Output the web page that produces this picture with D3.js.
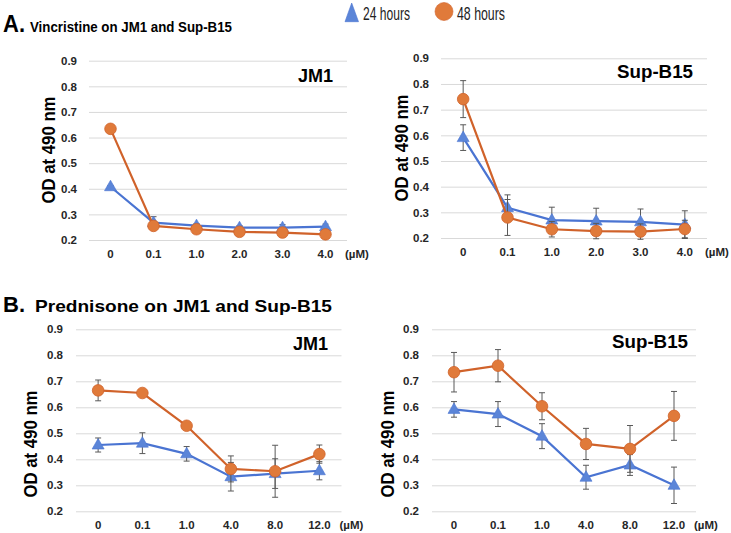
<!DOCTYPE html>
<html>
<head>
<meta charset="utf-8">
<script src="https://cdn.jsdelivr.net/npm/d3@7/dist/d3.min.js"></script>
<style>
  html, body { margin: 0; padding: 0; background: #fff; }
  svg { display: block; }
  text { font-family: "Liberation Sans", Arial, sans-serif; }
</style>
</head>
<body>
<svg id="chart" width="731" height="533"></svg>
<script>
// ---------- DATA ----------
const concVincristine = ["0", "0.1", "1.0", "2.0", "3.0", "4.0"];
const concPrednisone  = ["0", "0.1", "1.0", "4.0", "8.0", "12.0"];
const yTicks = [0.2, 0.3, 0.4, 0.5, 0.6, 0.7, 0.8, 0.9];
const seriesNames = ["24 hours", "48 hours"];

// Vincristine on JM1
const vinJM1_24h    = [0.408, 0.268, 0.256, 0.248, 0.248, 0.252];
const vinJM1_24hErr = [0.005, 0.023, 0.008, 0.008, 0.012, 0.010];
const vinJM1_48h    = [0.634, 0.255, 0.242, 0.232, 0.229, 0.222];
const vinJM1_48hErr = [0.004, 0.005, 0.005, 0.005, 0.005, 0.005];
// Vincristine on Sup-B15
const vinSup_24h    = [0.591, 0.318, 0.270, 0.266, 0.263, 0.252];
const vinSup_24hErr = [0.050, 0.050, 0.050, 0.050, 0.050, 0.054];
const vinSup_48h    = [0.741, 0.280, 0.234, 0.227, 0.225, 0.235];
const vinSup_48hErr = [0.072, 0.070, 0.030, 0.030, 0.030, 0.034];
// Prednisone on JM1
const preJM1_24h    = [0.455, 0.462, 0.421, 0.333, 0.345, 0.356];
const preJM1_24hErr = [0.027, 0.040, 0.028, 0.055, 0.057, 0.035];
const preJM1_48h    = [0.665, 0.655, 0.529, 0.363, 0.354, 0.420];
const preJM1_48hErr = [0.040, 0.005, 0.005, 0.050, 0.100, 0.035];
// Prednisone on Sup-B15
const preSup_24h    = [0.592, 0.574, 0.489, 0.331, 0.378, 0.300];
const preSup_24hErr = [0.030, 0.048, 0.048, 0.046, 0.040, 0.070];
const preSup_48h    = [0.735, 0.760, 0.604, 0.459, 0.440, 0.567];
const preSup_48hErr = [0.076, 0.062, 0.052, 0.060, 0.090, 0.094];

// ---------- STYLE / LAYOUT ----------
const C24 = { line: "#4a74d2", fill: "#5b85d8" };
const C48 = { line: "#d0622a", fill: "#e07a3a" };
const svg = d3.select("#chart");

const panels = [
  { cats: concVincristine, s24: vinJM1_24h, e24: vinJM1_24hErr, s48: vinJM1_48h, e48: vinJM1_48hErr,
    label: "JM1", x0: 89, x1: 347, yTop: 60.7, yBot: 240, tickPad: 12,
    labelX: 298, labelY: 81.5, labelLen: 35, titleX: 48.5, titleY: 150 },
  { cats: concVincristine, s24: vinSup_24h, e24: vinSup_24hErr, s48: vinSup_48h, e48: vinSup_48hErr,
    label: "Sup-B15", x0: 441, x1: 707, yTop: 58.3, yBot: 238, tickPad: 12,
    labelX: 617, labelY: 77.5, labelLen: 76, titleX: 401.5, titleY: 148 },
  { cats: concPrednisone, s24: preJM1_24h, e24: preJM1_24hErr, s48: preJM1_48h, e48: preJM1_48hErr,
    label: "JM1", x0: 76, x1: 341.5, yTop: 329.3, yBot: 511.3, tickPad: 13,
    labelX: 293, labelY: 350, labelLen: 35, titleX: 30, titleY: 444 },
  { cats: concPrednisone, s24: preSup_24h, e24: preSup_24hErr, s48: preSup_48h, e48: preSup_48hErr,
    label: "Sup-B15", x0: 432, x1: 696, yTop: 329.3, yBot: 511.3, tickPad: 13,
    labelX: 612, labelY: 347.5, labelLen: 76, titleX: 387, titleY: 444 }
];

function drawPanel(p) {
  const x = d3.scaleBand().domain(p.cats).range([p.x0, p.x1]).paddingInner(0).paddingOuter(0);
  const y = d3.scaleLinear().domain([0.2, 0.9]).range([p.yBot, p.yTop]);
  const g = svg.append("g");

  // y axis with gridlines
  const ya = g.append("g").attr("transform", `translate(${p.x0},0)`)
    .call(d3.axisLeft(y).tickValues(yTicks).tickFormat(d3.format(".1f"))
      .tickSizeInner(-(p.x1 - p.x0)).tickSizeOuter(0).tickPadding(p.tickPad));
  ya.select(".domain").remove();
  ya.selectAll(".tick line").attr("stroke", "#d9d9d9").attr("stroke-width", 1);
  ya.selectAll(".tick text").attr("font-size", 11.5).attr("font-weight", "bold")
    .attr("fill", "#262626").attr("font-family", "Liberation Sans, Arial, sans-serif");

  // x axis
  const xa = g.append("g").attr("transform", `translate(0,${p.yBot})`)
    .call(d3.axisBottom(x).tickSize(0).tickPadding(10));
  xa.select(".domain").remove();
  xa.selectAll(".tick text").attr("font-size", 11.5).attr("font-weight", "bold")
    .attr("fill", "#262626").attr("font-family", "Liberation Sans, Arial, sans-serif");
  g.append("text").attr("x", p.x1 - 2).attr("y", p.yBot + 18)
    .attr("font-size", 11.5).attr("font-weight", "bold").attr("fill", "#262626")
    .text("(µM)");

  // y title
  g.append("text")
    .attr("transform", `translate(${p.titleX},${p.titleY}) rotate(-90)`)
    .attr("text-anchor", "middle").attr("dominant-baseline", "central")
    .attr("font-size", 18.5).attr("font-weight", "bold").attr("fill", "#000")
    .attr("textLength", 107).attr("lengthAdjust", "spacingAndGlyphs")
    .text("OD at 490 nm");

  // panel label
  g.append("text").attr("x", p.labelX).attr("y", p.labelY)
    .attr("font-size", 18).attr("font-weight", "bold").attr("fill", "#000")
    .attr("textLength", p.labelLen).attr("lengthAdjust", "spacingAndGlyphs")
    .text(p.label);

  const cx = d => x(d) + x.bandwidth() / 2;
  const series = [
    { vals: p.s24, errs: p.e24, col: C24, shape: "tri" },
    { vals: p.s48, errs: p.e48, col: C48, shape: "circ" }
  ];

  series.forEach(s => {
    const pts = p.cats.map((c, i) => ({ c, v: s.vals[i], e: s.errs[i] }));
    // error bars
    const eb = g.append("g").attr("stroke", "#595959").attr("stroke-width", 1);
    pts.forEach(d => {
      const X = cx(d.c), t = y(d.v + d.e), b = y(d.v - d.e);
      eb.append("line").attr("x1", X).attr("x2", X).attr("y1", t).attr("y2", b);
      eb.append("line").attr("x1", X - 3).attr("x2", X + 3).attr("y1", t).attr("y2", t);
      eb.append("line").attr("x1", X - 3).attr("x2", X + 3).attr("y1", b).attr("y2", b);
    });
    // line
    g.append("path").datum(pts)
      .attr("fill", "none").attr("stroke", s.col.line).attr("stroke-width", 2.2)
      .attr("d", d3.line().x(d => cx(d.c)).y(d => y(d.v)));
    // markers
    if (s.shape === "circ") {
      g.selectAll(null).data(pts).join("circle")
        .attr("cx", d => cx(d.c)).attr("cy", d => y(d.v)).attr("r", 5.8)
        .attr("fill", s.col.fill).attr("stroke", s.col.line).attr("stroke-width", 0.8);
    } else {
      g.selectAll(null).data(pts).join("path")
        .attr("transform", d => `translate(${cx(d.c)},${y(d.v)})`)
        .attr("d", "M0,-6.5L6,4L-6,4Z")
        .attr("fill", s.col.fill).attr("stroke", s.col.line).attr("stroke-width", 0.6);
    }
  });
}

panels.forEach(drawPanel);

// ---------- TITLES ----------
svg.append("text").attr("x", 3).attr("y", 31.7).attr("font-size", 23).attr("font-weight", "bold")
  .attr("fill", "#000").attr("textLength", 22).attr("lengthAdjust", "spacingAndGlyphs").text("A.");
svg.append("text").attr("x", 30).attr("y", 31.7).attr("font-size", 15.5).attr("font-weight", "bold")
  .attr("fill", "#000").attr("textLength", 202).attr("lengthAdjust", "spacingAndGlyphs")
  .text("Vincristine on JM1 and Sup-B15");
svg.append("text").attr("x", 3).attr("y", 312).attr("font-size", 22).attr("font-weight", "bold")
  .attr("fill", "#000").attr("textLength", 22).attr("lengthAdjust", "spacingAndGlyphs").text("B.");
svg.append("text").attr("x", 35).attr("y", 312).attr("font-size", 17).attr("font-weight", "bold")
  .attr("fill", "#000").attr("textLength", 297).attr("lengthAdjust", "spacingAndGlyphs")
  .text("Prednisone on JM1 and Sup-B15");

// ---------- LEGEND ----------
const legend = svg.append("g");
legend.append("path").attr("d", "M351.7,3L358.5,21.7L345,21.7Z")
  .attr("fill", C24.fill).attr("stroke", C24.line).attr("stroke-width", 0.6);
legend.append("text").attr("x", 363).attr("y", 19.5).attr("font-size", 18.5).attr("fill", "#222")
  .attr("textLength", 47).attr("lengthAdjust", "spacingAndGlyphs").text(seriesNames[0]);
legend.append("circle").attr("cx", 444).attr("cy", 11.5).attr("r", 9)
  .attr("fill", C48.fill).attr("stroke", C48.line).attr("stroke-width", 0.6);
legend.append("text").attr("x", 457).attr("y", 19.5).attr("font-size", 18.5).attr("fill", "#222")
  .attr("textLength", 48).attr("lengthAdjust", "spacingAndGlyphs").text(seriesNames[1]);
</script>
</body>
</html>
